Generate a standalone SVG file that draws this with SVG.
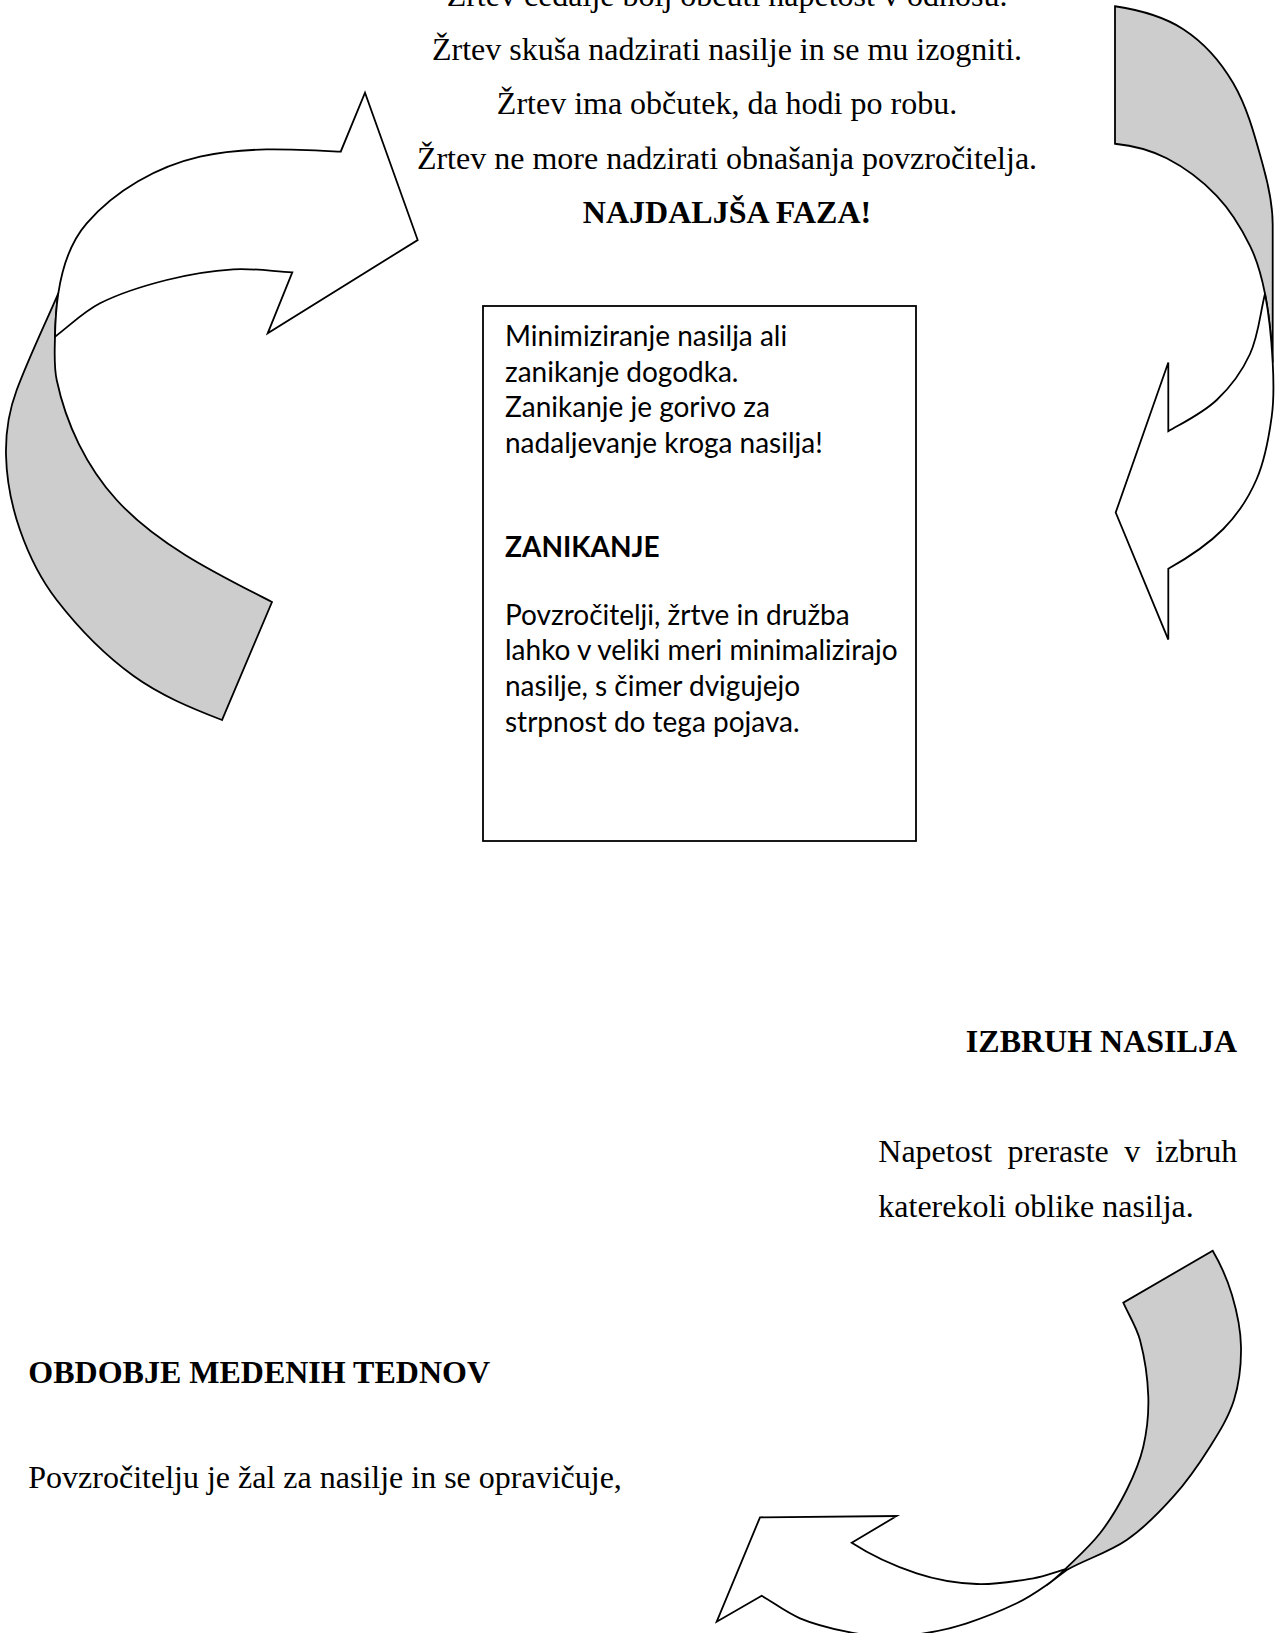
<svg xmlns="http://www.w3.org/2000/svg" width="1281" height="1633" viewBox="0 0 1281 1633">
<style>
.t{font-family:"Liberation Serif","Times New Roman",serif;font-size:32px;fill:#000}
.b{font-weight:bold}
.c{font-family:Lato,"Liberation Sans",sans-serif;font-size:28px;fill:#000}
.cb{font-weight:bold}
.back{fill:#cdcdcd;stroke:#000;stroke-width:1.8;stroke-linejoin:miter}
.front{fill:#fff;stroke:#000;stroke-width:1.8;stroke-linejoin:miter}
.box{fill:#fff;stroke:#000;stroke-width:1.8}
</style>
<rect width="1281" height="1633" fill="#fff"/>
<g id="connectors">
  <g id="arrow-top-left">
    <path class="back" d="M 58.3,293.3 C 44.4,325.6 29,357.1 16.7,390 C 9,410.6 5.5,433 6,455 C 6.6,480.4 11.6,506 20,530 C 28.7,554.9 40.5,579.1 56.7,600 C 78.7,628.4 104.3,654.7 133.3,675.8 C 160,695.2 191.2,708.1 222,720 L 272,602 C 217.5,574.2 157.9,545.2 116.7,500 C 86.6,467 65.9,423.8 56.7,380 C 53.7,365.8 54.7,351.2 55,336.7 C 55.3,322.2 56.1,307.6 58.3,293.3 Z"/>
    <path class="front" d="M 340.7,151.7 C 293.7,149.35 245.8,146.2 200,156.7 C 157.3,166.5 115.4,190.2 86.7,223.3 C 70.2,242.3 62.1,268.4 58.3,293.3 C 56.1,307.6 55.3,322.2 55,336.7 C 70,325.5 83.3,311.8 100,303.3 C 121,292.6 143.8,285.8 166.7,280 C 188.5,274.4 210.8,270.7 233.3,269.3 C 253,268.1 272.6,271.3 292.3,272.3 L 267.7,333.3 L 417.7,240 L 365,92.7 Z"/>
  </g>
  <g id="arrow-top-right">
    <path class="back" d="M 1115,6.25 C 1138.7,9.8 1163.2,16.1 1183.3,29.2 C 1203.9,42.6 1220.9,62 1233.3,83.3 C 1248.1,108.8 1255.4,138.3 1263.3,166.7 C 1268.6,185.7 1272.7,205.3 1272.7,225 L 1272.7,362.5 C 1271.5,339.4 1269.4,316.4 1265,293.75 C 1261.8,277.4 1257.4,260.8 1250,245.8 C 1241.2,227.9 1230.5,210.3 1216.7,195.8 C 1202.3,180.7 1185.2,167.8 1166.7,158.3 C 1150.8,150.2 1132.7,145.5 1115,143.75 Z"/>
    <path class="front" d="M 1265,293.75 C 1269.4,316.4 1271.5,339.4 1272.7,362.5 C 1273.7,380.6 1274.2,398.8 1271.7,416.7 C 1268.8,437.9 1265.2,459.4 1256.7,479 C 1248.8,497.4 1237.3,514.8 1223.3,529 C 1207.4,545.1 1188,557.7 1168.3,568.75 L 1168.3,639.6 L 1115.7,512.5 L 1168.3,362.5 L 1168.3,431.25 C 1184.8,421.7 1202.7,413.2 1216.7,400 C 1230.5,387 1242.1,371.3 1250,354 C 1258.6,335.2 1260,313.8 1265,293.75 Z"/>
  </g>
  <g id="arrow-bottom-right">
    <path class="back" d="M 1212.7,1250.7 C 1220.8,1264.6 1227.4,1279.6 1232,1295 C 1237,1311.8 1240.7,1329.2 1241,1346.7 C 1241.3,1364.6 1239.3,1382.9 1234,1400 C 1228.8,1416.7 1219.3,1431.9 1210,1446.7 C 1199,1464.2 1187.1,1481.3 1173.3,1496.7 C 1159.1,1512.6 1144.3,1527.9 1126.7,1540 C 1108.2,1552.7 1086.2,1559 1066.7,1570 L 1046.7,1585 C 1053.3,1580.3 1059.2,1574.9 1065,1569.3 C 1077,1557.7 1089.7,1546.5 1100,1533.3 C 1110.4,1519.9 1119.1,1505.2 1126.7,1490 C 1133.6,1476.1 1139.8,1461.8 1143.3,1446.7 C 1147.1,1430.4 1148.8,1413.4 1148.3,1396.7 C 1147.7,1377.6 1144.9,1358.5 1140,1340 C 1136.5,1326.9 1128.8,1315.1 1123.3,1302.7 Z"/>
    <path class="front" d="M 1065,1569.3 C 1059.2,1574.9 1053.3,1580.3 1046.7,1585 C 1037.1,1591.7 1027.3,1598.2 1016.7,1603.3 C 1000.5,1611.1 983.8,1617.7 966.7,1623.3 C 953.7,1627.6 940.2,1630.8 926.7,1633 C 913.5,1635.2 900.1,1636.7 886.7,1636.5 C 873.3,1636.3 859.8,1634.4 846.7,1631.7 C 830.8,1628.4 814.9,1624.6 800,1618.3 C 786.4,1612.5 774.4,1603.2 761.7,1595.7 L 716.7,1621.7 L 760,1517.3 L 896.7,1516 L 851.7,1542.7 C 871.7,1555.7 894,1565.8 916.7,1573.3 C 936,1579.7 956.4,1583.1 976.7,1584 C 995.7,1584.8 1014.6,1581.4 1033.3,1578.3 C 1044.1,1576.5 1054.4,1572.3 1065,1569.3 Z"/>
  </g>
</g>
<g id="node-tension" class="t" text-anchor="middle">
  <text x="727" y="6">Žrtev čedalje bolj občuti napetost v odnosu.</text>
  <text x="727" y="60">Žrtev skuša nadzirati nasilje in se mu izogniti.</text>
  <text x="727" y="114">Žrtev ima občutek, da hodi po robu.</text>
  <text x="727" y="168.5">Žrtev ne more nadzirati obnašanja povzročitelja.</text>
  <text x="727" y="223" class="b">NAJDALJŠA FAZA!</text>
</g>
<g id="node-denial">
  <rect class="box" x="483" y="306" width="433" height="535"/>
  <g class="c">
    <text x="505" y="345.6">Minimiziranje nasilja ali</text>
    <text x="505" y="381.5">zanikanje dogodka.</text>
    <text x="505" y="417.4">Zanikanje je gorivo za</text>
    <text x="505" y="453.3">nadaljevanje kroga nasilja!</text>
    <text x="505" y="557.4" class="cb">ZANIKANJE</text>
    <text x="505" y="624.5">Povzročitelji, žrtve in družba</text>
    <text x="505" y="660.4">lahko v veliki meri minimalizirajo</text>
    <text x="505" y="696.3">nasilje, s čimer dvigujejo</text>
    <text x="505" y="732.2">strpnost do tega pojava.</text>
  </g>
</g>
<g id="node-outburst" class="t">
  <text x="1237" y="1051.7" class="b" text-anchor="end">IZBRUH NASILJA</text>
  <text y="1161.7"><tspan x="878.3">Napetost</tspan><tspan x="1007.5">preraste</tspan><tspan x="1124.2">v</tspan><tspan x="1155.6">izbruh</tspan></text>
  <text x="878.3" y="1216.7">katerekoli oblike nasilja.</text>
</g>
<g id="node-honeymoon" class="t">
  <text x="28.3" y="1383" class="b">OBDOBJE MEDENIH TEDNOV</text>
  <text x="28.3" y="1488">Povzročitelju je žal za nasilje in se opravičuje,</text>
</g>
</svg>
